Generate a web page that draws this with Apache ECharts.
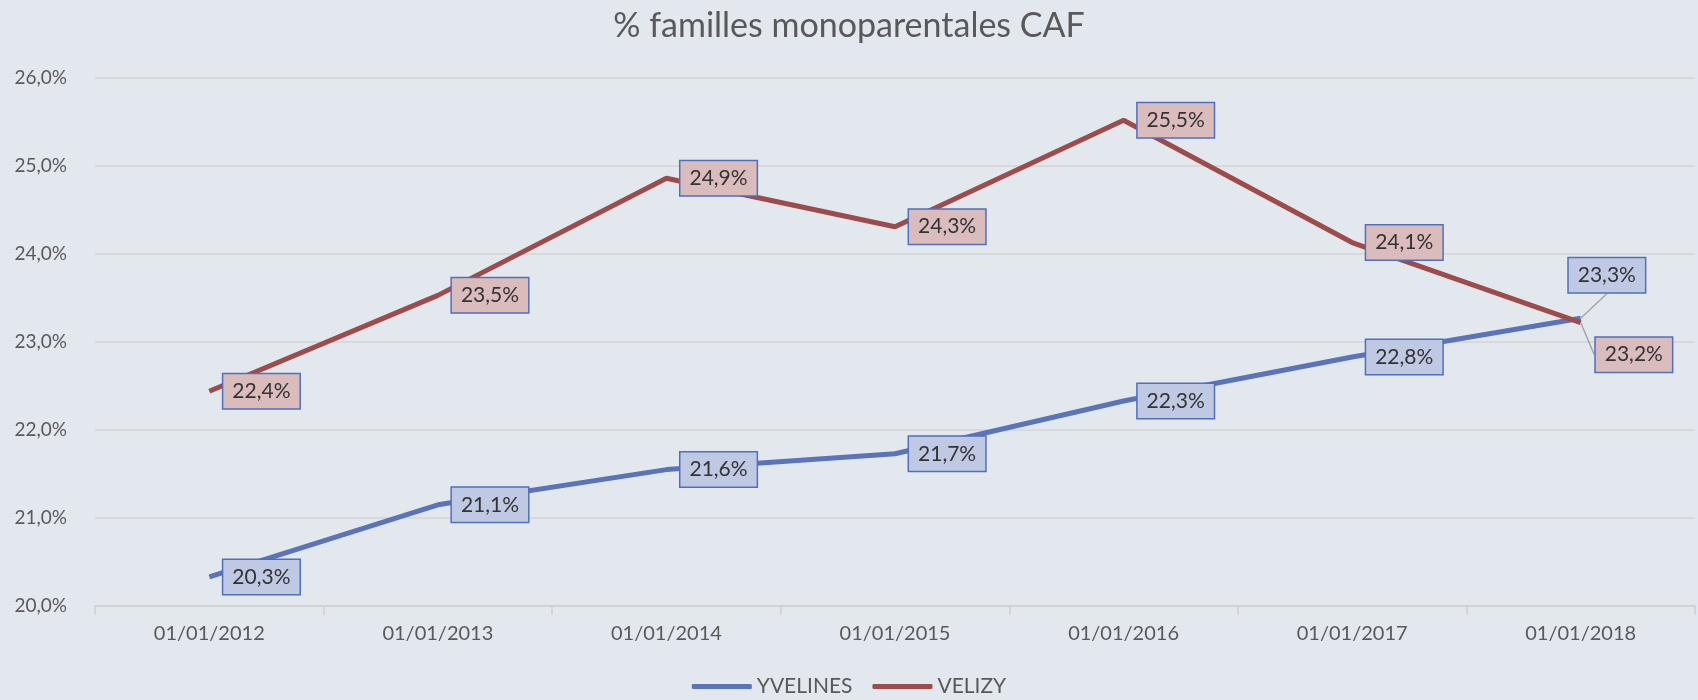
<!DOCTYPE html>
<html>
<head>
<meta charset="utf-8">
<script src="https://cdn.jsdelivr.net/npm/echarts@6/dist/echarts.min.js"></script>
<style>
  html, body { margin: 0; padding: 0; background: #e3e8ef; }
  #chart { width: 1698px; height: 700px; }
</style>
</head>
<body>
<div id="chart"></div>
<script>
// données
var dates = ['01/01/2012', '01/01/2013', '01/01/2014', '01/01/2015', '01/01/2016', '01/01/2017', '01/01/2018'];
var yvelines = [20.33, 21.15, 21.55, 21.73, 22.33, 22.83, 23.27];
var velizy = [22.44, 23.53, 24.86, 24.31, 25.52, 24.13, 23.22];

var FONT = 'Lato, "Open Sans", sans-serif';

function pct(v) {
  return v.toFixed(1).replace('.', ',') + '%';
}

function labelFor(fill) {
  return {
    show: true,
    position: 'right',
    distance: 14,
    formatter: function (p) { return pct(p.value); },
    backgroundColor: fill,
    borderColor: '#4f6fbf',
    borderWidth: 1.5,
    padding: [7, 9, 6, 9],
    color: '#333333',
    fontSize: 21,
    fontFamily: FONT
  };
}

var myChart = echarts.init(document.getElementById('chart'));
var option = {
  backgroundColor: '#e3e8ef',
  animation: false,
  title: {
    text: '% familles monoparentales CAF',
    left: 'center',
    top: 4,
    textStyle: { color: '#595959', fontSize: 34, fontWeight: 'normal', fontFamily: FONT }
  },
  legend: {
    bottom: -2,
    left: 'center',
    itemWidth: 60,
    itemHeight: 5,
    itemGap: 20,
    icon: 'roundRect',
    textStyle: { color: '#595959', fontSize: 21, fontFamily: FONT },
    data: ['YVELINES', 'VELIZY']
  },
  grid: { left: 95, right: 3, top: 78, bottom: 94 },
  xAxis: {
    type: 'category',
    data: dates,
    boundaryGap: true,
    axisLine: { lineStyle: { color: '#d0d0d0', width: 1.5 } },
    axisTick: { show: true, length: 9, lineStyle: { color: '#d0d0d0', width: 1.5 } },
    axisLabel: { color: '#595959', fontSize: 20, fontFamily: FONT, margin: 18 }
  },
  yAxis: {
    type: 'value',
    min: 20,
    max: 26,
    interval: 1,
    axisLine: { show: false },
    axisTick: { show: false },
    splitLine: { lineStyle: { color: '#d4d4d4', width: 1.5 } },
    axisLabel: { color: '#595959', fontSize: 19, fontFamily: FONT, margin: 28, formatter: pct }
  },
  series: [
    {
      name: 'YVELINES',
      type: 'line',
      data: yvelines,
      color: '#5b73ba',
      symbol: 'circle',
      symbolSize: 0.1,
      lineStyle: { width: 5, color: '#5b73ba' },
      label: labelFor('#bfc9e3'),
      labelLine: { show: false, lineStyle: { color: '#a6a6a6', width: 1.5 } },
      labelLayout: function (p) {
        if (p.dataIndex === 6) return { dx: -26, dy: -43 };
      }
    },
    {
      name: 'VELIZY',
      type: 'line',
      data: velizy,
      color: '#9e4b4b',
      symbol: 'circle',
      symbolSize: 0.1,
      lineStyle: { width: 5, color: '#9e4b4b' },
      label: labelFor('#dbbcbc'),
      labelLine: { show: false, lineStyle: { color: '#a6a6a6', width: 1.5 } },
      labelLayout: function (p) {
        if (p.dataIndex === 6) return { dx: 1, dy: 32 };
      }
    }
  ]
};
// trait de rappel pour les deux dernières étiquettes
option.series.forEach(function (s) {
  s.data = s.data.map(function (v, i) {
    return i === 6 ? { value: v, labelLine: { show: true } } : v;
  });
});
myChart.setOption(option);
</script>
</body>
</html>
